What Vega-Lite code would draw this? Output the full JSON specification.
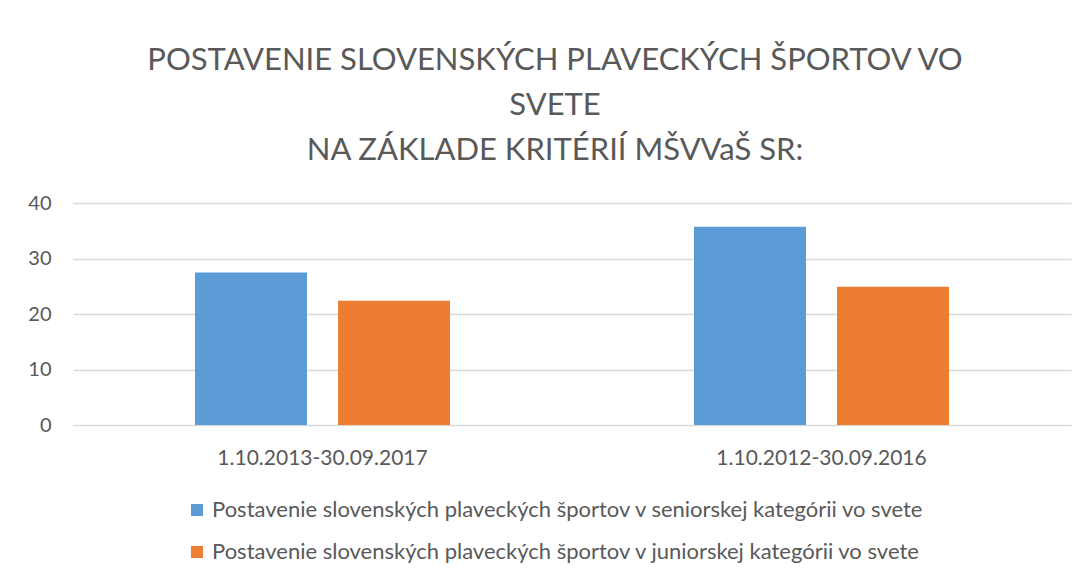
{
  "$schema": "https://vega.github.io/schema/vega-lite/v6.json",
  "autosize": "none",
  "width": 998,
  "height": 222,
  "padding": {"left": 73, "top": 203, "right": 16, "bottom": 157},
  "background": "white",
  "title": {
    "text": ["POSTAVENIE SLOVENSKÝCH PLAVECKÝCH ŠPORTOV VO", "SVETE", "NA ZÁKLADE KRITÉRIÍ MŠVVaŠ SR:"],
    "anchor": "middle",
    "font": "Lato",
    "fontSize": 31,
    "fontWeight": "normal",
    "color": "#595959",
    "lineHeight": 45,
    "baseline": "bottom",
    "offset": -5,
    "dx": -17
  },
  "data": {
    "values": [
      {"period": "1.10.2013-30.09.2017", "series": "Postavenie slovenských plaveckých športov v seniorskej kategórii vo svete", "value": 27.5},
      {"period": "1.10.2013-30.09.2017", "series": "Postavenie slovenských plaveckých športov v juniorskej kategórii vo svete", "value": 22.4},
      {"period": "1.10.2012-30.09.2016", "series": "Postavenie slovenských plaveckých športov v seniorskej kategórii vo svete", "value": 35.7},
      {"period": "1.10.2012-30.09.2016", "series": "Postavenie slovenských plaveckých športov v juniorskej kategórii vo svete", "value": 24.9}
    ]
  },
  "mark": {"type": "bar"},
  "encoding": {
    "x": {
      "field": "period",
      "type": "nominal",
      "sort": null,
      "scale": {"paddingInner": 0, "paddingOuter": 0},
      "axis": {
        "title": null,
        "labelAngle": 0,
        "labelFont": "Lato",
        "labelFontSize": 21,
        "labelColor": "#595959",
        "labelPadding": 39,
        "labelLimit": 0,
        "labelBaseline": "alphabetic",
        "ticks": false,
        "domain": false,
        "grid": false
      }
    },
    "xOffset": {
      "field": "series",
      "type": "nominal",
      "sort": null,
      "scale": {"paddingInner": 0.217, "paddingOuter": 0.853}
    },
    "y": {
      "field": "value",
      "type": "quantitative",
      "scale": {"domain": [0, 40]},
      "axis": {
        "title": null,
        "values": [0, 10, 20, 30, 40],
        "labelFont": "Lato",
        "labelFontSize": 20,
        "labelColor": "#595959",
        "labelPadding": 22,
        "ticks": false,
        "domain": false,
        "grid": true,
        "gridColor": "#D9D9D9",
        "gridWidth": 1.5
      }
    },
    "color": {
      "field": "series",
      "type": "nominal",
      "sort": null,
      "scale": {"range": ["#5B9BD5", "#ED7D31"]},
      "legend": {
        "title": null,
        "orient": "none",
        "legendX": 113,
        "legendY": 296,
        "direction": "vertical",
        "padding": 0,
        "symbolType": "square",
        "symbolSize": 144,
        "symbolStrokeWidth": 0,
        "labelFont": "Lato",
        "labelFontSize": 22,
        "labelColor": "#595959",
        "labelLimit": 0,
        "labelOffset": 4,
        "rowPadding": 20
      }
    }
  },
  "config": {"view": {"stroke": null}}
}
